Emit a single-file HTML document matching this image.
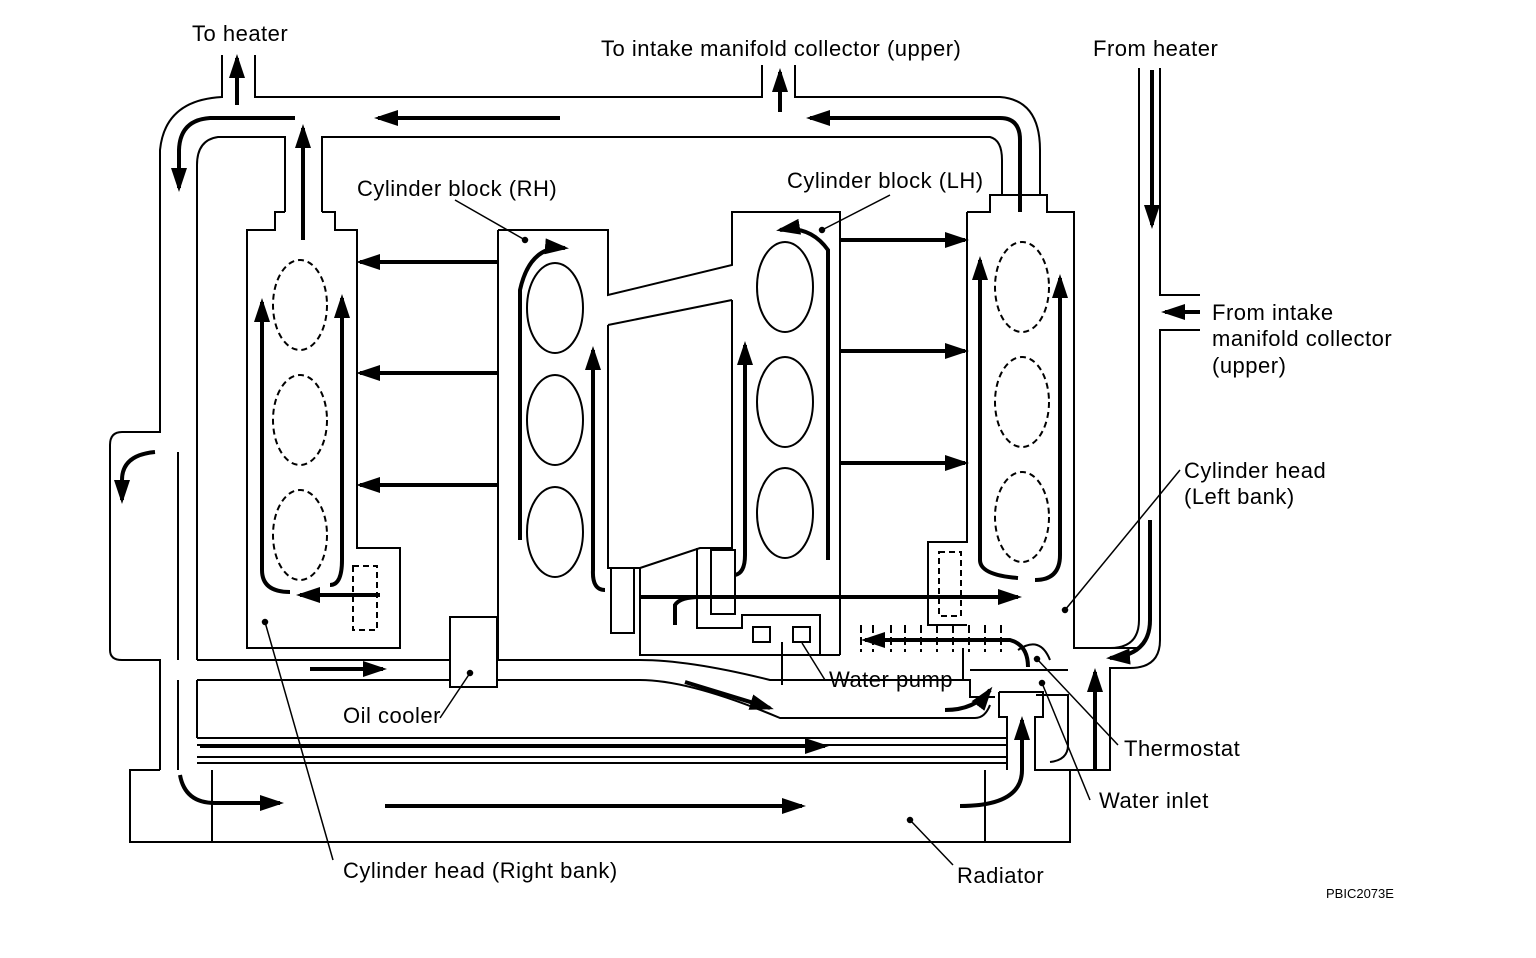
<!DOCTYPE html>
<html><head><meta charset="utf-8"><style>
html,body{margin:0;padding:0;background:#fff}
svg{display:block}
text{font-family:"Liberation Sans",sans-serif;font-size:22px;letter-spacing:0.5px;fill:#000}
</style></head><body>
<svg width="1536" height="958" viewBox="0 0 1536 958" xmlns="http://www.w3.org/2000/svg">
<defs>
<marker id="a" markerWidth="6" markerHeight="4" refX="5" refY="2" orient="auto" markerUnits="strokeWidth"><path d="M0,0 L6,2 L0,4 z" fill="#000"/></marker>
</defs>
<g fill="none" stroke="#000" stroke-width="2">
<path d="M222,55 V97 Q165,100 160,150 V432 H122 Q110,432 110,445 V650 Q110,660 122,660 H160 V770"/>
<path d="M255,55 V97 H762 V65"/>
<path d="M795,65 V97 H1000 Q1040,100 1040,150 V195"/>
<path d="M285,212 V137 H218 Q197,140 197,165 V660"/>
<path d="M322,212 V137 H990 Q1002,140 1002,160 V195"/>
<path d="M178,452 V660 M178,680 V770" />
<path d="M285,212 H275 V230 H247 V648 H400 V548 H357 V230 H335 V212 H322"/>
<rect x="353" y="566" width="24" height="64" stroke-dasharray="6,4"/>
<path d="M498,230 H608 V295 L732,265 V212 H840 V655"/>
<path d="M498,230 V660"/>
<path d="M608,325 L732,300"/>
<path d="M608,325 V568 H640 V655 H840"/>
<path d="M640,568 L700,548 H732 V300"/>
<rect x="611" y="568" width="23" height="65"/>
<rect x="711" y="550" width="24" height="64"/>
<path d="M697,548 V628 H742 V615 H820 V655"/>
<rect x="753" y="627" width="17" height="15"/><rect x="793" y="627" width="17" height="15"/>
<path d="M782,642 V685"/>
<path d="M967,212 H990 V195 H1047 V212 H1074 V648 H1139"/>
<path d="M967,212 V542 H928 V625 H967"/>
<rect x="939" y="552" width="22" height="64" stroke-dasharray="6,4"/>
<path d="M1139,68 V620 Q1139,648 1110,648 H1074"/>
<path d="M1160,68 V295 H1200 M1200,330 H1160 V640 Q1160,668 1130,668 H1110 V770 H1040"/>
<ellipse cx="300" cy="305" rx="27" ry="45" stroke-dasharray="6,4"/>
<ellipse cx="300" cy="420" rx="27" ry="45" stroke-dasharray="6,4"/>
<ellipse cx="300" cy="535" rx="27" ry="45" stroke-dasharray="6,4"/>
<ellipse cx="1022" cy="287" rx="27" ry="45" stroke-dasharray="6,4"/>
<ellipse cx="1022" cy="402" rx="27" ry="45" stroke-dasharray="6,4"/>
<ellipse cx="1022" cy="517" rx="27" ry="45" stroke-dasharray="6,4"/>
<ellipse cx="555" cy="308" rx="28" ry="45"/>
<ellipse cx="555" cy="420" rx="28" ry="45"/>
<ellipse cx="555" cy="532" rx="28" ry="45"/>
<ellipse cx="785" cy="287" rx="28" ry="45"/>
<ellipse cx="785" cy="402" rx="28" ry="45"/>
<ellipse cx="785" cy="513" rx="28" ry="45"/>
<rect x="450" y="617" width="47" height="70"/>
<path d="M197,660 H450 M497,660 H640 Q690,660 770,680 H970 V697 H995"/>
<path d="M197,680 H450 M497,680 H640 Q690,680 780,718 H975 Q985,718 990,705"/>
<path d="M197,738 H1007 M197,745 H1007 M197,757 H1007 M197,763 H1007"/>
<path d="M197,680 V738"/>
<path d="M999,692 H1043 V717 H1035 V770 H1070 V842 H130 V770 H160"/>
<path d="M999,692 V717 H1007 V770"/>
<path d="M212,770 V842 M985,770 V842"/>
<path d="M1036,695 H1068 V745 Q1068,760 1050,762"/>
<path d="M970,670 H1068"/>
<path d="M963,648 V680"/>
<path d="M1018,650 Q1040,635 1050,660"/>
<path d="M861,625 V652 M873,625 V652 M891,625 V652 M905,625 V652 M921,625 V652 M937,625 V652 M953,625 V652 M969,625 V652 M985,625 V652 M1001,625 V652" stroke-dasharray="8,4"/>
</g>
<g fill="none" stroke="#000" stroke-width="4" marker-end="url(#a)">
<path d="M237,105 V58"/>
<path d="M780,112 V72"/>
<path d="M295,118 H210 Q180,120 179,150 V188"/>
<path d="M560,118 H378"/>
<path d="M1020,212 V140 Q1020,118 1000,118 H810"/>
<path d="M303,240 V128"/>
<path d="M1152,70 V225"/>
<path d="M1200,312 H1165"/>
<path d="M155,452 Q122,455 122,480 V500"/>
<path d="M497,262 H360"/><path d="M497,373 H360"/><path d="M497,485 H360"/>
<path d="M840,240 H965"/><path d="M840,351 H965"/><path d="M840,463 H965"/>
<path d="M290,592 Q262,592 262,570 V302"/>
<path d="M330,585 Q342,585 342,560 V298"/>
<path d="M380,595 H300"/>
<path d="M605,590 Q592,590 593,570 V350"/>
<path d="M735,575 Q745,573 745,555 V345"/>
<path d="M520,540 V290 Q530,245 565,248"/>
<path d="M828,560 V250 Q810,225 780,230"/>
<path d="M640,597 H1018"/>
<path d="M1035,580 Q1060,580 1060,555 V278"/>
<path d="M1018,578 Q980,575 980,560 V260"/>
<path d="M675,625 V605 Q680,597 700,597" marker-end="none"/>
<path d="M1150,520 V620 Q1150,655 1110,658"/>
<path d="M1095,770 V672"/>
<path d="M1028,667 Q1028,645 1010,640 H865"/>
<path d="M310,669 H383"/>
<path d="M685,682 L770,708"/>
<path d="M945,710 Q975,710 990,690"/>
<path d="M200,746 H825"/>
<path d="M180,775 Q185,803 215,803 H280"/>
<path d="M385,806 H802"/>
<path d="M960,806 Q1022,806 1022,770 V720"/>
</g>
<g stroke="#000" stroke-width="1.5" fill="#000">
<line x1="455" y1="200" x2="525" y2="240"/><circle cx="525" cy="240" r="2.5"/>
<line x1="890" y1="195" x2="822" y2="230"/><circle cx="822" cy="230" r="2.5"/>
<line x1="1180" y1="470" x2="1065" y2="610"/><circle cx="1065" cy="610" r="2.5"/>
<line x1="333" y1="860" x2="265" y2="622"/><circle cx="265" cy="622" r="2.5"/>
<line x1="440" y1="718" x2="470" y2="673"/><circle cx="470" cy="673" r="2.5"/>
<line x1="825" y1="680" x2="802" y2="643"/>
<line x1="1118" y1="745" x2="1037" y2="659"/><circle cx="1037" cy="659" r="2.5"/>
<line x1="1090" y1="800" x2="1042" y2="683"/><circle cx="1042" cy="683" r="2.5"/>
<line x1="953" y1="865" x2="910" y2="820"/><circle cx="910" cy="820" r="2.5"/>
</g>
<text x="192" y="41">To heater</text>
<text x="601" y="56">To intake manifold collector (upper)</text>
<text x="1093" y="56">From heater</text>
<text x="357" y="196">Cylinder block (RH)</text>
<text x="787" y="188">Cylinder block (LH)</text>
<text x="1212" y="320">From intake</text>
<text x="1212" y="346">manifold collector</text>
<text x="1212" y="373">(upper)</text>
<text x="1184" y="478">Cylinder head</text>
<text x="1184" y="504">(Left bank)</text>
<text x="829" y="687">Water pump</text>
<text x="343" y="723">Oil cooler</text>
<text x="1124" y="756">Thermostat</text>
<text x="1099" y="808">Water inlet</text>
<text x="343" y="878">Cylinder head (Right bank)</text>
<text x="957" y="883">Radiator</text>
<text x="1326" y="898" style="font-size:13px;letter-spacing:0">PBIC2073E</text>
</svg>
</body></html>
